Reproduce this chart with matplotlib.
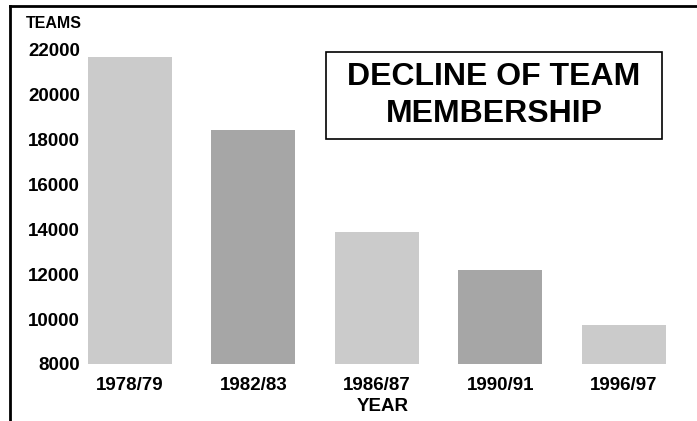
import matplotlib.pyplot as plt
from matplotlib.lines import Line2D
from matplotlib.patches import Rectangle

plt.rcParams['font.family'] = ['Liberation Sans', 'DejaVu Sans']
plt.rcParams['font.weight'] = 'bold'

# data
years = ['1978/79', '1982/83', '1986/87', '1990/91', '1996/97']
teams = [21700, 18450, 13900, 12200, 9750]
bar_colors = ['#cbcbcb', '#a6a6a6', '#cbcbcb', '#a6a6a6', '#cbcbcb']
y_ticks = [8000, 10000, 12000, 14000, 16000, 18000, 20000, 22000]
baseline = 8000

fig = plt.figure(figsize=(6.97, 4.21), dpi=100)
ax = fig.add_axes([84 / 697, 1 - 364 / 421, (698 - 84) / 697, 314 / 421])

x = range(len(years))
heights = [v - baseline for v in teams]
ax.bar(x, heights, bottom=baseline, width=0.68, color=bar_colors)

ax.set_xlim(-0.37, 4.6)
ax.set_ylim(baseline, 22000)
ax.set_yticks(y_ticks)
ax.set_yticklabels([str(t) for t in y_ticks], fontsize=13.5, fontweight='bold')
ax.set_xticks(list(x))
ax.set_xticklabels(years, fontsize=13.5, fontweight='bold')
ax.tick_params(axis='both', length=0)
ax.tick_params(axis='y', pad=3)
ax.tick_params(axis='x', pad=9)
for s in ax.spines.values():
    s.set_visible(False)
for lbl in ax.get_yticklabels():
    lbl.set_clip_on(False)

ax.set_xlabel('YEAR', fontsize=13.5, fontweight='bold')
ax.xaxis.set_label_coords((383 - 84) / 614, -41 / 314 - 0.005, transform=ax.transAxes)
ax.xaxis.label.set_va('center')

fig.text(82 / 697, 1 - 24 / 421, 'TEAMS', fontsize=11.5, fontweight='bold',
         ha='right', va='center')

# title box
fig.add_artist(Rectangle((326 / 697, 1 - 139 / 421), 336 / 697, 87 / 421,
                         transform=fig.transFigure, facecolor='white',
                         edgecolor='black', linewidth=1.2))
fig.text(494 / 697, 1 - 95.5 / 421, 'DECLINE OF TEAM\nMEMBERSHIP', fontsize=23,
         fontweight='bold', ha='center', va='center', linespacing=1.32)

# outer frame lines (top and left only)
fig.add_artist(Line2D([9.5 / 697, 1], [1 - 5.5 / 421, 1 - 5.5 / 421],
                      color='black', linewidth=2, transform=fig.transFigure))
fig.add_artist(Line2D([9.5 / 697, 9.5 / 697], [0, 1 - 5.5 / 421],
                      color='black', linewidth=2, transform=fig.transFigure))

fig.savefig('out.png', dpi=100)
